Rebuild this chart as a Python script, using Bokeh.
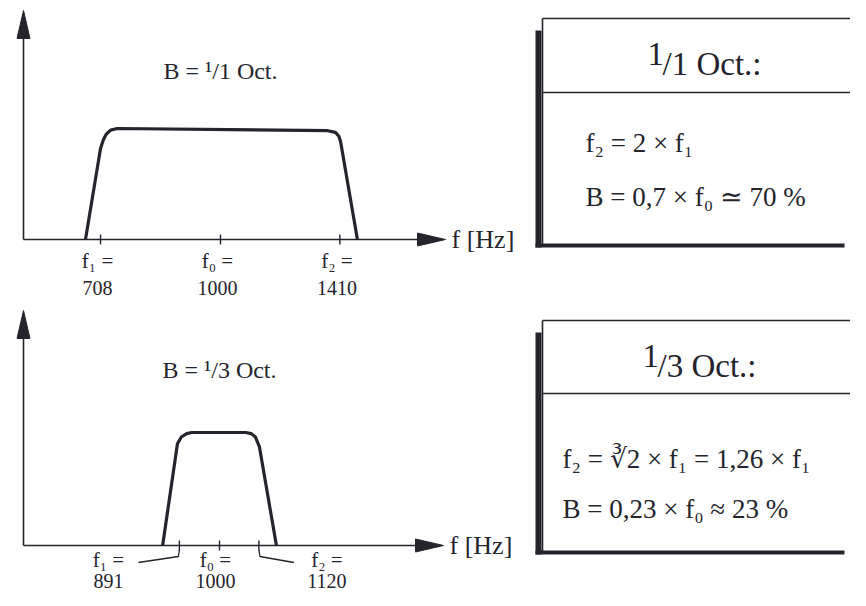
import numpy as np
from bokeh.plotting import figure
from bokeh.models import Range1d, ColumnDataSource
from bokeh.layouts import column, row
from bokeh.core.properties import value
from bokeh.embed import file_html
from bokeh.resources import INLINE

# ---------------- data ----------------
axis_unit = "f [Hz]"

oct_title = "B = ¹/1 Oct."
oct_ticks = [708, 1000, 1410]
oct_tick_names = ["f₁ =", "f₀ =", "f₂ ="]
oct_tick_values = ["708", "1000", "1410"]
oct_curve_f = [678, 708, 714, 720, 729, 743, 1361, 1392, 1406, 1413, 1420, 1483]
oct_curve_level = [0.0, 0.82, 0.90, 0.95, 0.985, 1.0, 0.98, 0.965, 0.93, 0.88, 0.79, 0.0]

third_title = "B = ¹/3 Oct."
third_ticks = [891, 1000, 1120]
third_tick_names = ["f₁ =", "f₀ =", "f₂ ="]
third_tick_values = ["891", "1000", "1120"]
third_curve_f = [849, 886, 896, 910, 923, 1078, 1096, 1109, 1122, 1178]
third_curve_level = [0.0, 0.90, 0.96, 0.99, 1.0, 1.0, 0.99, 0.96, 0.87, 0.0]

oct_box_title = ["1", "/1 Oct.:"]
oct_box_lines = ["f₂ = 2 × f₁", "B = 0,7 × f₀ ≃ 70 %"]
third_box_title = ["1", "/3 Oct.:"]
third_box_lines = ["f₂ =  ∛2 × f₁ = 1,26 × f₁", "B = 0,23 × f₀ ≈ 23 %"]

# ---------------- style ----------------
FONT = value("Liberation Serif")
INK = "#24242c"
PX_PER_DECADE = 800.0
F_REF = 1000.0
LEFT_W = 528
RIGHT_W = 322


def clean(p):
    p.outline_line_color = None
    p.background_fill_color = "white"
    p.border_fill_color = "white"
    p.xgrid.visible = False
    p.ygrid.visible = False


def chart(height, f_ref_px, base_px, level_px, axis_left_px, x_tip_px, y_tip_px,
          title, title_level, ticks, names, values, name_dx, name_dy, value_dy,
          cf, cl, leaders=None):
    def f_at(px):
        return F_REF * 10 ** ((px - f_ref_px) / PX_PER_DECADE)

    def lv_at(py):
        return (base_px - py) / level_px

    def df(f, dpx):
        return f * 10 ** (dpx / PX_PER_DECADE)

    p = figure(width=LEFT_W, height=height, x_axis_type="log",
               x_range=Range1d(f_at(0), f_at(LEFT_W)),
               y_range=Range1d(lv_at(height), lv_at(0)),
               x_axis_location=None, y_axis_location=None,
               output_backend="svg", toolbar_location=None, min_border=0)
    clean(p)

    fa = f_at(axis_left_px)
    ftip = f_at(x_tip_px)
    ytip = lv_at(y_tip_px)
    head_len, head_half = 28, 6.5
    # axis lines
    p.segment(x0=[fa, fa], y0=[0, 0], x1=[df(ftip, -head_len * 0.6), fa],
              y1=[0, ytip - head_len * 0.6 / level_px],
              line_color=INK, line_width=1.6)
    # arrow heads
    p.patches(xs=[[ftip, df(ftip, -head_len), df(ftip, -head_len)],
                  [fa, df(fa, -head_half), df(fa, head_half)]],
              ys=[[0, head_half / level_px, -head_half / level_px],
                  [ytip, ytip - head_len / level_px, ytip - head_len / level_px]],
              fill_color=INK, line_color=INK, line_width=1)
    # ticks
    p.scatter(x=ticks, y=[0] * len(ticks), marker="dash", angle=np.pi / 2,
              size=10, line_color=INK, line_width=1.4)
    # leader lines
    if leaders:
        for f, dx in zip(ticks, leaders):
            if dx == 0:
                continue
            s = 1 if dx > 0 else -1
            p.line(x=[f, df(f, s * 1), df(f, dx)],
                   y=[-4 / level_px, -11 / level_px, -17 / level_px],
                   line_color=INK, line_width=1.3)
    # pass-band curve
    p.line(x=cf, y=cl, line_color=INK, line_width=3.2, line_join="round")
    # texts
    src = ColumnDataSource(dict(x=ticks, y=[0] * len(ticks), n=names, v=values,
                                dx=name_dx))
    p.text(x="x", y="y", text="n", x_offset="dx", y_offset=name_dy, source=src,
           text_font=FONT, text_font_size="21px", text_color=INK,
           text_align="center", text_baseline="middle")
    p.text(x="x", y="y", text="v", x_offset="dx", y_offset=value_dy, source=src,
           text_font=FONT, text_font_size="20px", text_color=INK,
           text_align="center", text_baseline="middle")
    p.text(x=[F_REF], y=[title_level], text=[title], text_font=FONT,
           text_font_size="24px", text_color=INK, text_align="center",
           text_baseline="middle")
    p.text(x=[ftip], y=[0], text=[axis_unit], x_offset=6, text_font=FONT,
           text_font_size="26px", text_color=INK, text_align="left",
           text_baseline="middle")
    return p


def box(height, top_y, left_x, bottom_y, divider_y, title_x, title_y, raised_y,
        lines_x, lines_y, title, lines, line_size):
    p = figure(width=RIGHT_W, height=height, x_range=Range1d(0, RIGHT_W),
               y_range=Range1d(height, 0), x_axis_location=None,
               y_axis_location=None, output_backend="svg",
               toolbar_location=None, min_border=0)
    clean(p)
    thin = left_x + 4
    p.segment(x0=[thin, thin, thin], y0=[top_y, top_y, divider_y],
              x1=[RIGHT_W, thin, RIGHT_W], y1=[top_y, bottom_y, divider_y],
              line_color=INK, line_width=1.6)
    p.segment(x0=[left_x], y0=[top_y + 12], x1=[left_x], y1=[bottom_y + 2],
              line_color=INK, line_width=6)
    p.segment(x0=[left_x - 3], y0=[bottom_y], x1=[RIGHT_W - 6], y1=[bottom_y],
              line_color=INK, line_width=4)
    p.text(x=[title_x], y=[raised_y], text=[title[0]], text_font=FONT,
           text_font_size="33px", text_color=INK, text_align="left",
           text_baseline="middle")
    p.text(x=[title_x + 15], y=[title_y], text=[title[1]], text_font=FONT,
           text_font_size="33px", text_color=INK, text_align="left",
           text_baseline="middle")
    p.text(x=[lines_x] * len(lines), y=lines_y, text=lines, text_font=FONT,
           text_font_size=line_size, text_color=INK, text_align="left",
           text_baseline="middle")
    return p


p_oct = chart(300, 220, 239, 111, 23, 445, 10, oct_title, 1.52,
              oct_ticks, oct_tick_names, oct_tick_values, [-3, -3, -3], 21, 48,
              oct_curve_f, oct_curve_level)
p_third = chart(290, 219, 245, 113, 23, 443, 10, third_title, 1.55,
                third_ticks, third_tick_names, third_tick_values, [-71, -4, 68], 14, 35,
                third_curve_f, third_curve_level, leaders=[-41, 0, 35])
b_oct = box(300, 18, 10, 245, 92, 119, 63, 53, 57, [142, 196],
            oct_box_title, oct_box_lines, "27px")
b_third = box(290, 20, 10, 252, 93, 114, 65, 55, 34, [158, 208],
              third_box_title, third_box_lines, "27px")

layout = column(row(p_oct, b_oct), row(p_third, b_third))
open("out.html", "w").write(file_html(layout, INLINE))
